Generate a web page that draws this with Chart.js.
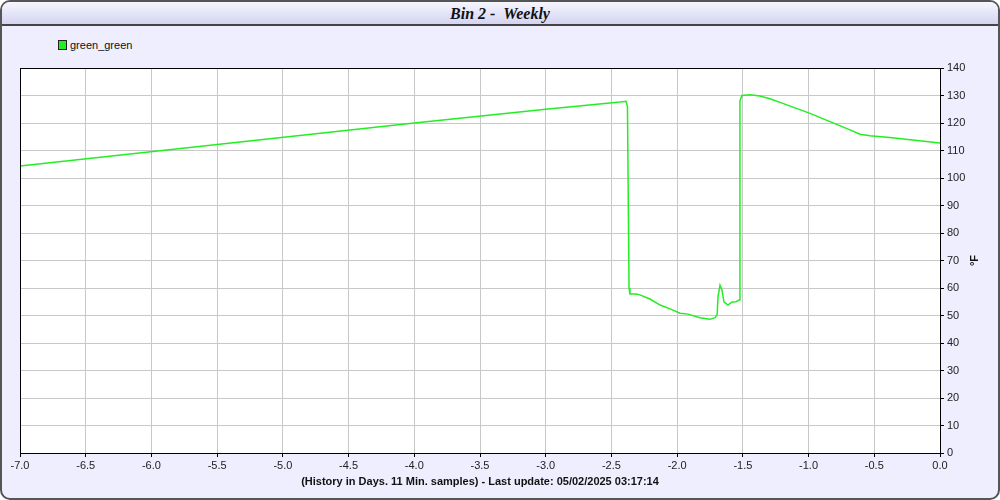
<!DOCTYPE html>
<html><head><meta charset="utf-8">
<script src="https://cdn.jsdelivr.net/npm/chart.js@4.4.1/dist/chart.umd.min.js"></script>
<style>
html,body{margin:0;padding:0;background:#fff;}
#panel{position:absolute;left:0;top:0;width:996px;height:496px;border:2px solid #555;border-radius:10px;background:#eeeeff;overflow:hidden;}
#bar{position:absolute;left:0;top:0;width:996px;height:22px;border-bottom:2px solid #444;background:linear-gradient(#f6f6ff,#d4d4f2);}
#title{position:absolute;left:0;top:3px;width:996px;text-align:center;font:italic bold 16px "Liberation Serif","Times New Roman",serif;color:#111;}
#legend{position:absolute;left:56px;top:37px;font:11px "Liberation Sans",Arial,sans-serif;color:#111;}
#legend span.box{display:inline-block;width:7px;height:8px;background:#22ee22;border:1px solid #222;vertical-align:-1px;margin-right:3px;}
#c{position:absolute;left:0;top:0;}
</style></head>
<body>
<div id="panel"><div id="bar"></div><div id="title">Bin 2 -&nbsp; Weekly</div>
<div id="legend"><span class="box"></span>green_green</div></div>
<canvas id="c" width="1000" height="500"></canvas>
<script>
const seriesName = "green_green";
const days = [-7.0,-4.0,-3.0,-2.435,-2.389,-2.378,-2.366,-2.359,-2.313,-2.283,-2.207,-2.130,-2.054,-1.978,-1.917,-1.826,-1.750,-1.712,-1.696,-1.689,-1.674,-1.659,-1.644,-1.613,-1.583,-1.552,-1.529,-1.522,-1.507,-1.446,-1.370,-1.294,-1.217,-1.103,-0.989,-0.837,-0.685,-0.609,-0.533,-0.381,0.0];
const temps = [104.4,120.0,125.0,127.6,127.9,126.0,60.0,57.8,57.8,57.5,56.0,53.8,52.4,50.8,50.5,49.2,48.6,49.2,50.2,56.8,61.0,59.3,55.0,53.8,54.9,55.0,55.6,128.0,130.0,130.3,129.8,128.8,127.5,125.5,123.5,120.5,117.5,115.9,115.4,114.7,112.7];
const xAxisLabel = "(History in Days. 11 Min. samples) - Last update: 05/02/2025 03:17:14";
const yAxisLabel = "°F";

const plotBg = {
  id:'plotBg',
  beforeDraw(chart){const a=chart.chartArea,ctx=chart.ctx;ctx.save();ctx.fillStyle='#fff';ctx.fillRect(a.left,a.top,a.right-a.left,a.bottom-a.top);ctx.restore();},
  afterDraw(chart){const a=chart.chartArea,ctx=chart.ctx;ctx.save();ctx.strokeStyle='#000';ctx.lineWidth=1;ctx.strokeRect(a.left+0.5,a.top+0.5,a.right-a.left,a.bottom-a.top);
    // y-axis title, rotated counter-clockwise
    ctx.translate(975,(a.top+a.bottom)/2);ctx.rotate(-Math.PI/2);
    ctx.font='bold 11px "Liberation Sans",Arial,sans-serif';ctx.fillStyle='#111';ctx.textAlign='center';ctx.textBaseline='middle';
    ctx.fillText(yAxisLabel,0,0);ctx.restore();}
};

new Chart(document.getElementById('c'),{
  type:'line',
  data:{datasets:[{label:seriesName,data:days.map((d,i)=>({x:d,y:temps[i]})),borderColor:'#22ee22',borderWidth:1.5,pointRadius:0,tension:0,fill:false}]},
  options:{
    responsive:false,animation:false,
    layout:{padding:{left:20,top:68,right:0,bottom:0}},
    plugins:{legend:{display:false},title:{display:false},tooltip:{enabled:false}},
    scales:{
      x:{type:'linear',min:-7,max:0,
        afterFit(s){s.height=47;},
        ticks:{stepSize:0.5,callback:v=>Number(v).toFixed(1),color:'#222',font:{family:'"Liberation Sans",Arial,sans-serif',size:11},padding:2,maxRotation:0,autoSkip:false},
        grid:{color:'#c8c8c8',tickColor:'#000',tickLength:4},
        border:{color:'#000'},
        title:{display:true,text:xAxisLabel,color:'#111',font:{family:'"Liberation Sans",Arial,sans-serif',size:11,weight:'bold'},padding:{top:0,bottom:11}}
      },
      y:{type:'linear',position:'right',min:0,max:140,
        afterFit(s){s.width=60;},
        ticks:{stepSize:10,color:'#222',font:{family:'"Liberation Sans",Arial,sans-serif',size:11},padding:3},
        grid:{color:'#c8c8c8',tickColor:'#000',tickLength:4},
        border:{color:'#000'},
        title:{display:false}
      }
    }
  },
  plugins:[plotBg]
});
</script>
</body></html>
